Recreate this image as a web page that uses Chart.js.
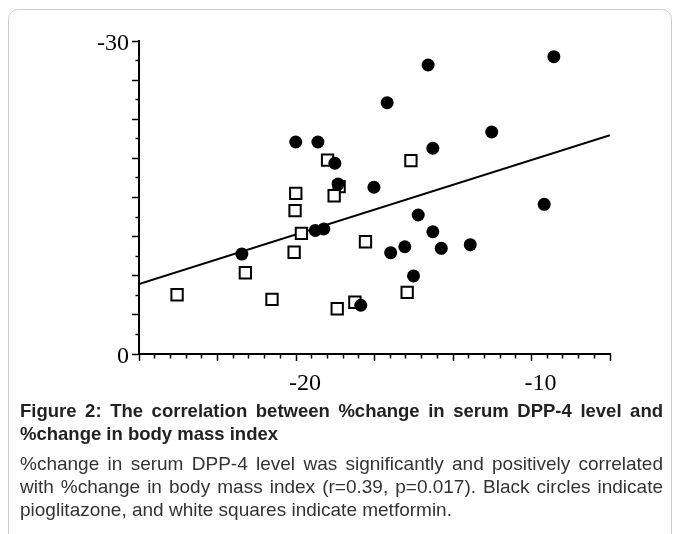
<!DOCTYPE html>
<html>
<head>
  <title>DPP-4 vs BMI</title>
  <script src="https://cdn.jsdelivr.net/npm/chart.js"></script>
  <style>
    html, body { margin: 0; padding: 0; background: #fff; overflow: hidden; }
    body { width: 683px; height: 534px; position: relative; }
    .frame {
      position: absolute; left: 8px; top: 9px; width: 662px; height: 600px;
      border: 1px solid #cfcfcf; border-radius: 10px;
    }
    #wrap { position: absolute; left: 0; top: 0; width: 683px; height: 400px; }
    .caption {
      position: absolute; left: 20px; top: 399px; width: 643px;
      font-family: "Liberation Sans", Arial, sans-serif; color: #222;
      text-align: justify;
    }
    .caption .title { font-weight: bold; font-size: 18.5px; line-height: 23px; }
    .caption .text { font-size: 19px; line-height: 23px; margin-top: 7px; color: #333; }
  </style>
</head>
<body>
  <div class="frame"></div>
  <div id="wrap"><canvas id="myChart" width="683" height="400"></canvas></div>
  <div class="caption">
    <div class="title">Figure 2: The correlation between %change in serum DPP-4 level and %change in body mass index</div>
    <div class="text">%change in serum DPP-4 level was significantly and positively correlated with %change in body mass index (r=0.39, p=0.017). Black circles indicate pioglitazone, and white squares indicate metformin.</div>
  </div>
  <script>
    // pioglitazone (black circles): %change in BMI (x), %change in DPP-4 (y)
    const pioX = [-9.05, -14.39, -16.13, -20.01, -19.07, -11.69, -14.19, -18.35, -18.21, -16.69, -14.81,
                  -9.46, -19.18, -18.82, -22.30, -14.19, -15.38, -13.83, -12.60, -15.98, -15.01, -17.25];
    const pioY = [-28.5, -27.7, -24.09, -20.32, -20.32, -21.28, -19.72, -18.28, -16.29, -15.98, -13.32,
                  -14.35, -11.84, -11.98, -9.58, -11.72, -10.28, -10.13, -10.48, -9.71, -7.48, -4.67];

    // metformin (white squares)
    const metX = [-18.66, -15.12, -20.01, -18.17, -18.38, -20.04, -19.77, -20.08, -17.05, -22.15,
                  -25.05, -21.02, -17.50, -18.25, -15.28];
    const metY = [-18.59, -18.53, -15.40, -16.04, -15.17, -13.74, -11.57, -9.75, -10.76, -7.79,
                  -5.68, -5.24, -4.96, -4.34, -5.91];

    // regression line end points
    const regX = [-26.667, -6.667];
    const regY = [-6.71, -20.96];

    // axes
    const xMin = -80 / 3, xMax = -20 / 3, xMinorStep = 2 / 3, xMajorEvery = 5;
    const yMin = -30, yMax = 0, yMinorStep = 1.875, yMajorEvery = 2;
    const xTickLabels = [-20, -10];
    const yTickLabels = [-30, 0];

    function tickValues(min, max, step) {
      const out = [];
      const n = Math.round((max - min) / step);
      for (let i = 0; i <= n; i++) out.push(min + i * step);
      return out;
    }
    function labelFor(list) {
      return function (value) {
        const hit = list.find(v => Math.abs(v - value) < 1e-6);
        return hit === undefined ? '' : String(hit);
      };
    }
    const toPoints = (xs, ys) => xs.map((x, i) => ({ x: x, y: ys[i] }));

    const tickFont = { family: '"Liberation Serif", "Times New Roman", serif', size: 24 };

    const ctx = document.getElementById('myChart').getContext('2d');
    const myChart = new Chart(ctx, {
      type: 'scatter',
      data: {
        datasets: [
          {
            label: 'pioglitazone',
            data: toPoints(pioX, pioY),
            pointStyle: 'circle',
            pointRadius: 6.5,
            backgroundColor: '#000',
            borderColor: '#000',
            borderWidth: 0,
            order: 0
          },
          {
            label: 'metformin',
            data: toPoints(metX, metY),
            pointStyle: 'rect',
            pointRadius: 8,
            backgroundColor: '#fff',
            borderColor: '#000',
            borderWidth: 2,
            order: 1
          },
          {
            type: 'line',
            label: 'regression',
            data: toPoints(regX, regY),
            borderColor: '#000',
            borderWidth: 2,
            pointRadius: 0,
            fill: false,
            order: 2
          }
        ]
      },
      options: {
        responsive: false,
        animation: false,
        layout: { padding: { left: 0, top: 41, right: 73, bottom: 0 } },
        plugins: {
          legend: { display: false },
          tooltip: { enabled: false }
        },
        scales: {
          x: {
            type: 'linear',
            min: xMin,
            max: xMax,
            afterBuildTicks: s => { s.ticks = tickValues(xMin, xMax, xMinorStep).map(v => ({ value: v })); },
            afterFit: s => { s.height = 46; },
            border: { display: true, color: '#000', width: 2 },
            grid: {
              drawOnChartArea: false,
              drawTicks: true,
              tickLength: 7,
              tickWidth: 1.5,
              tickColor: '#000',
              tickBorderDash: c => (c.index % xMajorEvery === 0 ? [] : [3.5, 20])
            },
            ticks: {
              autoSkip: false,
              maxRotation: 0,
              padding: 8,
              labelOffset: 9,
              color: '#000',
              font: tickFont,
              callback: labelFor(xTickLabels)
            }
          },
          y: {
            type: 'linear',
            reverse: true,
            min: yMin,
            max: yMax,
            afterBuildTicks: s => { s.ticks = tickValues(yMin, yMax, yMinorStep).map(v => ({ value: v })); },
            afterFit: s => { s.width = 139; },
            border: { display: true, color: '#000', width: 2 },
            grid: {
              drawOnChartArea: false,
              drawTicks: true,
              tickLength: 7,
              tickWidth: 1.5,
              tickColor: '#000',
              tickBorderDash: c => (c.index % yMajorEvery === 0 ? [] : [0, 3.5, 20])
            },
            ticks: {
              autoSkip: false,
              padding: 3,
              labelOffset: 3,
              color: '#000',
              font: tickFont,
              callback: labelFor(yTickLabels)
            }
          }
        }
      }
    });
  </script>
</body>
</html>
